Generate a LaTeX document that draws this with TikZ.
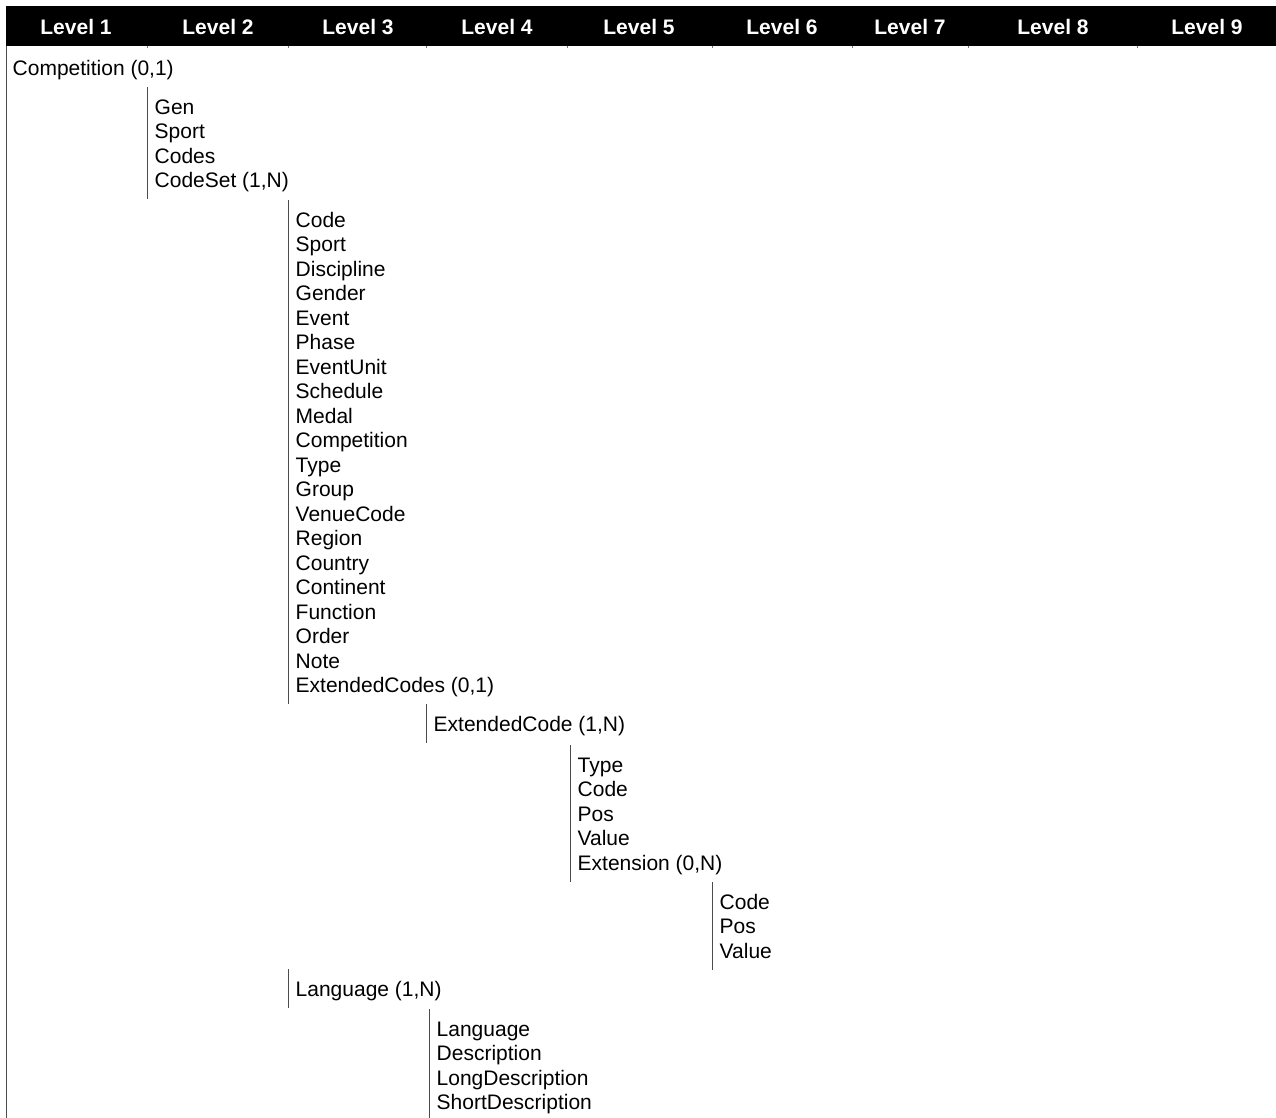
\documentclass[tikz,border=0pt]{standalone}
\usepackage{fontspec}
\setmainfont{Liberation Sans}
\begin{document}
\begin{tikzpicture}[x=1pt,y=-1pt,
  hdr/.style={font=\bfseries\fontsize{21}{24.5}\selectfont, text=white, inner sep=0pt},
  blk/.style={anchor=north west, align=left, inner xsep=7.5pt, inner ysep=7pt,
              font=\fontsize{21}{24.5}\selectfont},
  bar/.style={draw=black!70, line width=1pt},
  tick/.style={draw=black!55, line width=0.9pt}]
\useasboundingbox (0,0) rectangle (1276,1118);
% header
\fill[black] (6,6) rectangle (1276,46);
\foreach \x/\c/\t in {76/1/Level 1, 218/2/Level 2, 358/3/Level 3, 497/4/Level 4,
                      639/5/Level 5, 782/6/Level 6, 910/7/Level 7, 1053/8/Level 8, 1207/9/Level 9}
  \node[hdr] (h\c) at (\x,27) {\t};
\foreach \x in {147,288,426,567,712,852,968,1137}
  \draw[tick] (\x,46) -- (\x,48.5);
% left border
\coordinate (ltop) at (6,46);
\coordinate (lbot) at (6,1118);
\draw[bar] (ltop) -- (lbot);
% blocks (text sits 3pt lower than its bar)
\node[blk, inner xsep=6.5pt] (b1) at (6,51) {\strut Competition (0,1)};
\node[blk] (b2) at (147,90) {\strut Gen\\\strut Sport\\\strut Codes\\\strut CodeSet (1,N)};
\node[blk] (b3) at (288,203) {\strut Code\\\strut Sport\\\strut Discipline\\\strut Gender\\\strut Event\\
  \strut Phase\\\strut EventUnit\\\strut Schedule\\\strut Medal\\\strut Competition\\
  \strut Type\\\strut Group\\\strut VenueCode\\\strut Region\\\strut Country\\
  \strut Continent\\\strut Function\\\strut Order\\\strut Note\\\strut ExtendedCodes (0,1)};
\node[blk] (b4) at (426,707) {\strut ExtendedCode (1,N)};
\node[blk] (b5) at (570,748) {\strut Type\\\strut Code\\\strut Pos\\\strut Value\\\strut Extension (0,N)};
\node[blk] (b6) at (712,885) {\strut Code\\\strut Pos\\\strut Value};
\node[blk] (b7) at (288,972) {\strut Language (1,N)};
\node[blk] (b8) at (429,1012) {\strut Language\\\strut Description\\\strut LongDescription\\\strut ShortDescription};
\foreach \n in {b2,b3,b4,b5,b6,b7,b8}
  \draw[bar] ([yshift=3pt]\n.north west) -- ([yshift=3pt]\n.south west);
\end{tikzpicture}
\end{document}
